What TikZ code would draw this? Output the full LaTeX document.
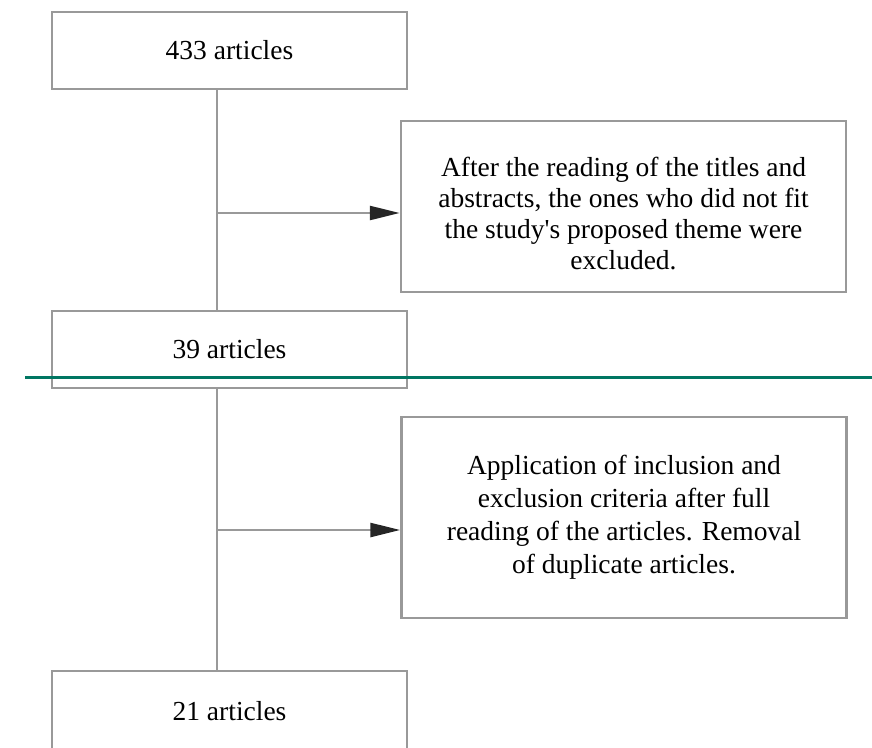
\documentclass[tikz,border=0pt]{standalone}
\usepackage{fontspec}
\setmainfont{Liberation Serif}
\usepackage{tikz}
\usetikzlibrary{arrows.meta,calc,positioning}
\definecolor{rulegreen}{RGB}{0,118,98}
\tikzset{
        block/.style = {draw=black!40, line width=2.5pt, rectangle, fill=white,
            minimum height=77pt,
            minimum width=355pt, align=center,
            font=\fontsize{27.5}{31}\selectfont},
        note/.style = {block, minimum width=445pt},
        line/.style = {draw=black!40, line width=2.5pt},
        arrow/.style = {line, -{Triangle[length=30pt,width=14pt,color=black!85]}},
    }

\begin{document}
\begin{tikzpicture}[x=1pt,y=-1pt]
            \useasboundingbox (0,0) rectangle (872,747);
            % boxes down the left
            \node[block] (n433) at (229.5,50.5) {433 articles};
            \node[block] (n39) at (229.5,349.5) {39 articles};
            \node[block, minimum height=80pt] (n21) at (229.5,711) {21 articles};
            % exclusion notes
            \node[note, minimum height=171pt] (excl1) at (623.5,206.5)
                {\raisebox{-17pt}[0pt][0pt]{\begin{tabular}{@{}c@{}}After the reading of the titles and\\abstracts, the ones who did not fit\\the study\textquotesingle s proposed theme were\\excluded.\end{tabular}}};
            \node[note, minimum height=201pt, font=\fontsize{27.5}{33}\selectfont] (excl2) at (624,517.5)
                {Application of inclusion and\\exclusion criteria after full\\reading of the articles. Removal\\of duplicate articles.};

            \coordinate (j1) at (217,213);
            \coordinate (j2) at (217,530);

            \draw[line] (n433.south -| j1) -- (n39.north -| j1);
            \draw[line] (n39.south -| j2) -- (n21.north -| j2);
            \draw[arrow] (j1) -- (j1 -| excl1.west);
            \draw[arrow] (j2) -- (j2 -| excl2.west);

            % green rule across
            \coordinate (g1) at (25,377);
            \coordinate (g2) at (872,377);
            \draw[rulegreen, line width=3pt] (g1) -- (g2);
\end{tikzpicture}
\end{document}
